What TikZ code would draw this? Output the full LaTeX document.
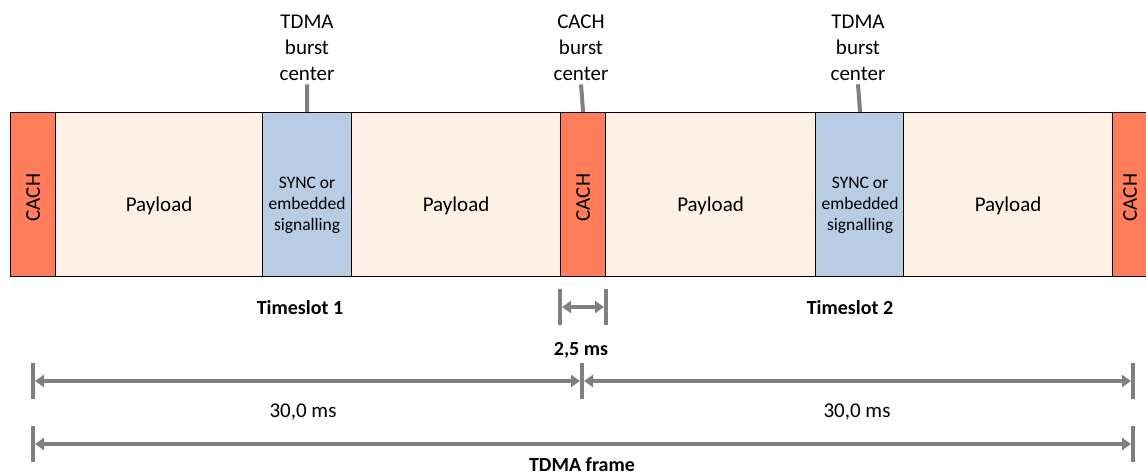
\documentclass[tikz,border=0pt]{standalone}
\usepackage{fontspec}
\setmainfont{Carlito}
\usetikzlibrary{arrows.meta}
\definecolor{cachred}{RGB}{255,125,90}
\definecolor{payloadbg}{RGB}{253,240,228}
\definecolor{syncblue}{RGB}{184,204,228}
\definecolor{dimgray}{RGB}{128,128,128}
\begin{document}
\begin{tikzpicture}[x=1pt,y=-1pt,
    every node/.style={font=\fontsize{21}{26}\selectfont},
    slot/.style={draw=black,line width=1.2pt,minimum height=164pt,inner sep=0pt,anchor=north west},
    cach/.style={slot,fill=cachred,minimum width=45pt},
    payload/.style={slot,fill=payloadbg,minimum width=#1},
    sync/.style={slot,fill=syncblue,minimum width=89pt},
    synctext/.style={align=center,font=\fontsize{17.5}{21}\selectfont},
    tick/.style={draw=dimgray,line width=4pt},
    dim/.style={draw=dimgray,line width=4pt,
      {Triangle[length=9pt,width=12pt]}-{Triangle[length=9pt,width=12pt]}},
    heading/.style={align=center},
    bold/.style={font=\fontsize{20}{26}\selectfont\bfseries}
  ]
  \clip (0,0) rectangle (1146,476);
  % frame
  \node[cach] (c0) at (10,112) {};
  \node[payload=207pt] (p1) at (55,112) {};
  \node[sync] (s1) at (262,112) {};
  \node[payload=209pt] (p2) at (351,112) {};
  \node[cach] (c1) at (560,112) {};
  \node[payload=210pt] (p3) at (605,112) {};
  \node[sync] (s2) at (815,112) {};
  \node[payload=209pt] (p4) at (903,112) {};
  \node[cach] (c2) at (1112,112) {};
  \node[rotate=90] (tc0) at ([yshift=-3pt]c0.center) {CACH};
  \node[rotate=90] (tc1) at ([yshift=-3pt]c1.center) {CACH};
  \node[rotate=90] (tc2) at ([xshift=-5pt,yshift=-3pt]c2.center) {CACH};
  \node (tp1) at ([yshift=-11pt]p1.center) {Payload};
  \node (tp2) at ([yshift=-11pt]p2.center) {Payload};
  \node (tp3) at ([yshift=-11pt]p3.center) {Payload};
  \node (tp4) at ([yshift=-11pt]p4.center) {Payload};
  \node[synctext] (ts1) at ([yshift=-11pt]s1.center) {SYNC or\\embedded\\signalling};
  \node[synctext] (ts2) at ([yshift=-11pt]s2.center) {SYNC or\\embedded\\signalling};
  % burst centers
  \node[heading] (h1) at (307,48) {TDMA\\burst\\center};
  \node[heading] (h2) at (581,48) {CACH\\burst\\center};
  \node[heading] (h3) at (858,48) {TDMA\\burst\\center};
  \draw[tick] (s1.north) -- (h1.south);
  \draw[tick] (c1.north) -- (h2.south);
  \draw[tick] (s2.north) -- (h3.south);
  % timeslots
  \node[bold] (slot1) at (300,308) {Timeslot 1};
  \node[bold] (slot2) at (850,308) {Timeslot 2};
  % 2,5 ms
  \coordinate (a0) at (560,307);
  \coordinate (a1) at (606,307);
  \draw[tick] ([yshift=-18pt]a0) -- ([yshift=18pt]a0);
  \draw[tick] ([yshift=-18pt]a1) -- ([yshift=18pt]a1);
  \draw[dim] ([xshift=2pt]a0) -- ([xshift=-2pt]a1);
  \node[bold] (d1) at (581,350) {2,5 ms};
  % 30,0 ms
  \coordinate (b0) at (33,381);
  \coordinate (b1) at (582,381);
  \coordinate (b2) at (1133,381);
  \foreach \b in {b0,b1,b2}
    \draw[tick] ([yshift=-18pt]\b) -- ([yshift=18pt]\b);
  \draw[dim] ([xshift=2pt]b0) -- ([xshift=-2pt]b1);
  \draw[dim] ([xshift=2pt]b1) -- ([xshift=-2pt]b2);
  \node (d2) at (303,412) {30,0 ms};
  \node (d3) at (857,412) {30,0 ms};
  % TDMA frame
  \coordinate (f0) at (33,444);
  \coordinate (f1) at (1133,444);
  \draw[tick] ([yshift=-18pt]f0) -- ([yshift=18pt]f0);
  \draw[tick] ([yshift=-18pt]f1) -- ([yshift=18pt]f1);
  \draw[dim] ([xshift=2pt]f0) -- ([xshift=-2pt]f1);
  \node[bold] (fr) at (582,465) {TDMA frame};
\end{tikzpicture}
\end{document}
